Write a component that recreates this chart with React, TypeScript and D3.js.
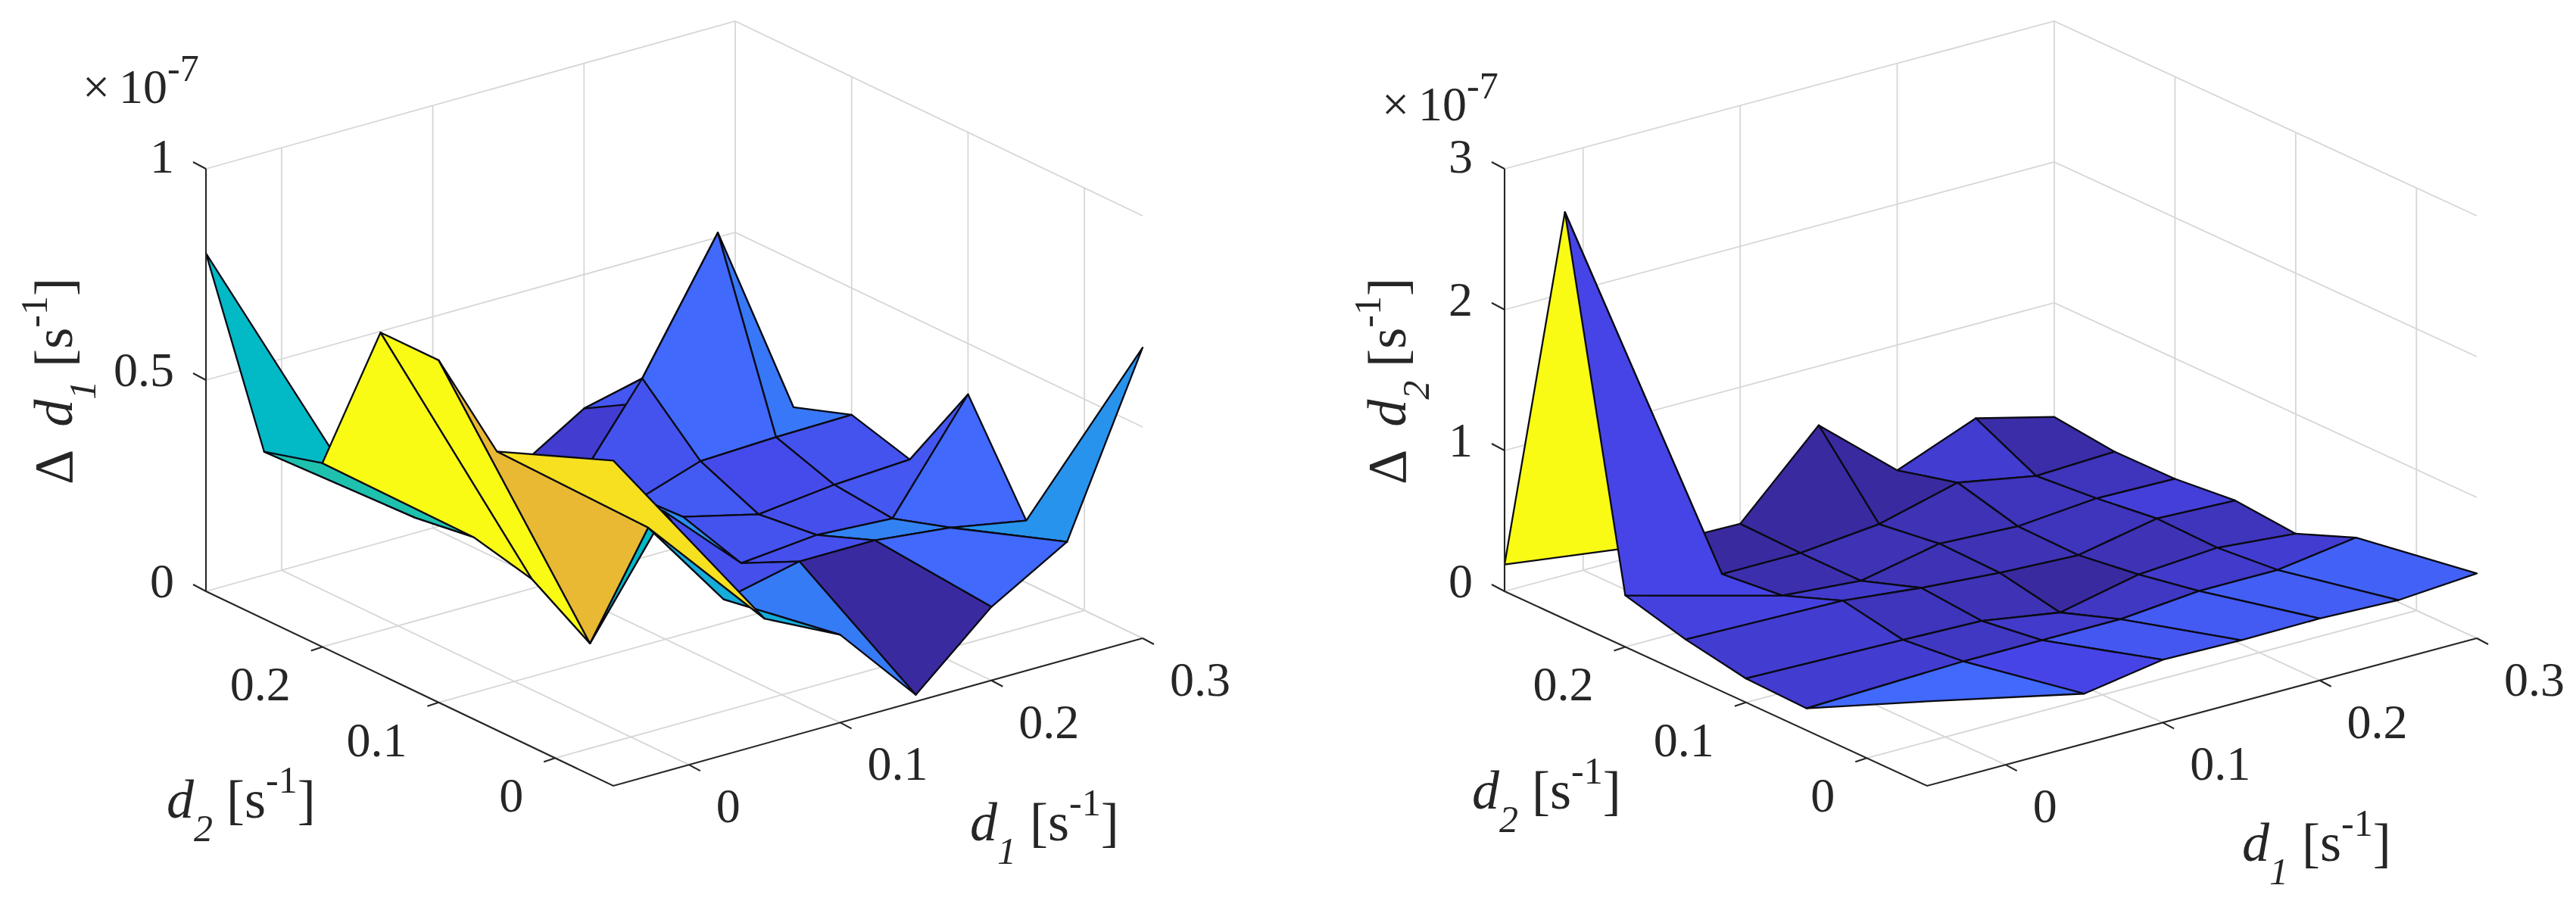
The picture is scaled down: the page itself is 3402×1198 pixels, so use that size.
import React from "react";
import * as d3 from "d3";

// ---------- data ----------
const d1Values = [-0.05, 0.05, 0.1, 0.15, 0.2, 0.25, 0.3];
const d2Values = [-0.05, 0.05, 0.1, 0.15, 0.2, 0.25, 0.3];
const d1Ticks = [0, 0.1, 0.2, 0.3];
const d2Ticks = [0, 0.1, 0.2];
const zTicksLeft = [0, 0.5, 1];
const zTicksRight = [0, 1, 2, 3];

// rows: d1 index, columns: d2 index, unit 1e-7
const errorD1 = [
  [0.77, 0.66, 0.81, 0.81, 0.435, 0.396, 0.8],
  [0.296, 0.38, 0.04, 0.127, 0.16, 0.14, 0.14],
  [0.208, 0.16, 0.3, 0.3, 0.12, 0.06, 0.1],
  [0.016, 0.2, 0.13, 0.174, 0.13, 0.082, 0.073],
  [0.174, 0.2, 0.147, 0.13, 0.19, 0.32, 0.183],
  [0.278, 0.18, 0.136, 0.15, 0.197, 0.615, 0.15],
  [0.688, 0.147, 0.38, 0.16, 0.2, 0.152, 0.15],
];
const errorD2 = [
  [0.6, 0.156, 0.17, 0.25, 0.366, 2.89, 0.19],
  [0.355, 0.19, 0.145, 0.226, 0.065, 0.02, 0.04],
  [0.446, 0.19, 0.13, 0.167, 0.02, 0.02, 0.03],
  [0.435, 0.19, 0.04, 0.124, 0.134, 0.075, 0.58],
  [0.44, 0.24, 0.16, 0.1, 0.107, 0.22, 0.11],
  [0.42, 0.24, 0.2, 0.21, 0.156, 0.118, 0.33],
  [0.46, 0.32, 0.15, 0.188, 0.145, 0.14, 0.19],
];
// per-face colour values (0..1 along the colormap)
const faceColorD1 = [
  [0.96, 0.87, 1, 1, 0.57, 0.5],
  [0.42, 0.5, 0.08, 0.1, 0.12, 0.12],
  [0.25, 0.13, 0.3, 0.15, 0.15, 0.1],
  [0, 0.13, 0.14, 0.16, 0.14, 0.07],
  [0.2, 0.27, 0.13, 0.12, 0.2, 0.15],
  [0.32, 0.2, 0.15, 0.14, 0.24, 0.2],
];
const faceColorD2 = [
  [0.2, 0.07, 0.07, 0.09, 0.1, 1],
  [0.1, 0.05, 0.04, 0.06, 0.02, 0],
  [0.15, 0.06, 0.03, 0.03, 0.03, 0],
  [0.16, 0.05, 0, 0.03, 0.03, 0],
  [0.17, 0.06, 0.03, 0.04, 0.04, 0.07],
  [0.18, 0.07, 0.04, 0.08, 0.04, 0.01],
];
const parulaStops = [0, 0.1, 0.2, 0.3, 0.4, 0.5, 0.6, 0.7, 0.8, 0.9, 1];
const parulaColors = ["#3a2aa0", "#4644e6", "#4169fb", "#2b8df0", "#1aaadf", "#02b9c6", "#2ac4a4", "#86ca66", "#d3bc3c", "#f2b82f", "#f9fb15"];

// ---------- layout ----------
type P = [number, number];
const panels = [
  {
    zMax: 1, zTicks: zTicksLeft, values: errorD1, colors: faceColorD1, sub: "1",
    L: [272, 781] as P, F: [810, 1038] as P, R: [1509, 843] as P, zPx: 558,
    expo: [109, 136], zLabel: [95, 640], d2Label: [220, 1080], d1Label: [1281, 1110],
  },
  {
    zMax: 3, zTicks: zTicksRight, values: errorD2, colors: faceColorD2, sub: "2",
    L: [1987, 781] as P, F: [2545, 1038] as P, R: [3271, 843] as P, zPx: 558,
    expo: [1825, 159], zLabel: [1856, 640], d2Label: [1944, 1068], d1Label: [2961, 1137],
  },
];

const INK = "#262626";
const FONT = "'Liberation Serif', 'Times New Roman', serif";
const TICK_SIZE = 64;
const LABEL_SIZE = 72;
const SMALL_SIZE = 50;

const parula = d3.scaleLinear<string>().domain(parulaStops).range(parulaColors).interpolate(d3.interpolateRgb);
const line = d3.line<P>();

function Label({ name, sub, x, y, rotate }: { name?: string; sub: string; x: number; y: number; rotate?: boolean }) {
  return (
    <text x={rotate ? 0 : x} y={rotate ? 0 : y} transform={rotate ? `translate(${x},${y}) rotate(-90)` : undefined}
      fontFamily={FONT} fontSize={LABEL_SIZE} fill={INK} xmlSpace="preserve">
      {name ? <tspan>{"\u0394"}</tspan> : null}
      <tspan fontStyle="italic" dx={name ? 30 : 0}>d</tspan>
      <tspan fontStyle="italic" fontSize={SMALL_SIZE} dy={31}>{sub}</tspan>
      <tspan dy={-31}>{" [s"}</tspan>
      <tspan fontSize={SMALL_SIZE} dy={-33}>-1</tspan>
      <tspan dy={33}>]</tspan>
    </text>
  );
}

function Panel({ p }: { p: (typeof panels)[number] }) {
  const u = d3.scaleLinear().domain([d1Values[0], d1Values[6]]).range([0, 1]);
  const v = d3.scaleLinear().domain([d2Values[0], d2Values[6]]).range([0, 1]);
  const w = d3.scaleLinear().domain([0, p.zMax]).range([0, 1]);
  const ex = [p.R[0] - p.F[0], p.R[1] - p.F[1]];
  const ey = [p.L[0] - p.F[0], p.L[1] - p.F[1]];
  const proj = (a: number, b: number, c: number): P => [
    p.F[0] + u(a) * ex[0] + v(b) * ey[0],
    p.F[1] + u(a) * ex[1] + v(b) * ey[1] - w(c) * p.zPx,
  ];
  const dMin = d1Values[0], dMax = d1Values[6];
  const top = p.zMax;

  const grid: P[][] = [];
  d1Ticks.forEach((t) => {
    grid.push([proj(t, dMin, 0), proj(t, dMax, 0)]);
    grid.push([proj(t, dMax, 0), proj(t, dMax, top)]);
  });
  d2Ticks.forEach((t) => {
    grid.push([proj(dMin, t, 0), proj(dMax, t, 0)]);
    grid.push([proj(dMax, t, 0), proj(dMax, t, top)]);
  });
  p.zTicks.forEach((t) => {
    grid.push([proj(dMin, dMax, t), proj(dMax, dMax, t), proj(dMax, dMin, t)]);
  });

  const faces: { pts: P[]; depth: number; c: number }[] = [];
  for (let i = 0; i < 6; i++) {
    for (let j = 0; j < 6; j++) {
      const idx = [[i, j], [i + 1, j], [i + 1, j + 1], [i, j + 1]];
      const pts = idx.map(([a, b]) => proj(d1Values[a], d2Values[b], p.values[a][b]));
      const depth = d3.mean(idx, ([a, b]) => u(d1Values[a]) + 1.297 * v(d2Values[b]) - 0.946 * w(p.values[a][b])) as number;
      faces.push({ pts, depth, c: p.colors[i][j] });
    }
  }
  faces.sort((a, b) => b.depth - a.depth);

  return (
    <g>
      {grid.map((g, k) => (
        <path key={k} d={line(g) as string} fill="none" stroke="#d6d6d6" strokeWidth={1.8} />
      ))}
      {faces.map((f, k) => (
        <path key={k} d={(line(f.pts) as string) + "Z"} fill={parula(f.c)} stroke="#0a0a14" strokeWidth={2.3} strokeLinejoin="round" />
      ))}
      <path d={line([proj(dMin, dMax, top), proj(dMin, dMax, 0), proj(dMin, dMin, 0), proj(dMax, dMin, 0)]) as string}
        fill="none" stroke={INK} strokeWidth={2.1} />
      {p.zTicks.map((t) => {
        const [x, y] = proj(dMin, dMax, t);
        return (
          <g key={t}>
            <path d={line([[x, y], [x - 17, y - 9]]) as string} stroke={INK} strokeWidth={2.1} fill="none" />
            <text x={x - 42} y={y + (t === p.zMax ? 5 : 8)} textAnchor="end" fontFamily={FONT} fontSize={TICK_SIZE} fill={INK}>{t}</text>
          </g>
        );
      })}
      {d2Ticks.map((t) => {
        const [x, y] = proj(dMin, t, 0);
        return (
          <g key={t}>
            <path d={line([[x, y], [x - 15, y + 5]]) as string} stroke={INK} strokeWidth={2.1} fill="none" />
            <text x={x - 42} y={y + 71} textAnchor="end" fontFamily={FONT} fontSize={TICK_SIZE} fill={INK}>{t}</text>
          </g>
        );
      })}
      {d1Ticks.map((t) => {
        const [x, y] = proj(t, dMin, 0);
        return (
          <g key={t}>
            <path d={line([[x, y], [x + 15, y + 8]]) as string} stroke={INK} strokeWidth={2.1} fill="none" />
            <text x={x + 36} y={y + 76} fontFamily={FONT} fontSize={TICK_SIZE} fill={INK}>{t}</text>
          </g>
        );
      })}
      <text x={p.expo[0]} y={p.expo[1]} fontFamily={FONT} fontSize={TICK_SIZE} fill={INK}>
        <tspan>{"\u00d7"}</tspan><tspan dx={12}>10</tspan><tspan fontSize={SMALL_SIZE} dy={-29}>-7</tspan>
      </text>
      <Label name="z" sub={p.sub} x={p.zLabel[0]} y={p.zLabel[1]} rotate />
      <Label sub="2" x={p.d2Label[0]} y={p.d2Label[1]} />
      <Label sub="1" x={p.d1Label[0]} y={p.d1Label[1]} />
    </g>
  );
}

export default function App() {
  return (
    <svg width={3402} height={1198} viewBox="0 0 3402 1198" style={{ position: "absolute", left: 0, top: 0, background: "#fff" }}>
      {panels.map((p, k) => (
        <Panel key={k} p={p} />
      ))}
    </svg>
  );
}
